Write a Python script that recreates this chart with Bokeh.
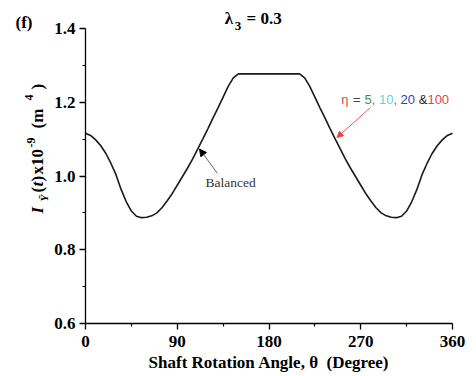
from bokeh.plotting import figure
from bokeh.models import Range1d, FixedTicker, Label, Arrow, NormalHead, ColumnDataSource
from bokeh.embed import file_html
from bokeh.resources import INLINE
import math

# ---- data ----
theta = list(range(0, 361, 5))
inertia = [1.116, 1.110, 1.098, 1.082, 1.061, 1.034, 1.003, 0.963, 0.930, 0.905,
           0.891, 0.887, 0.888, 0.892, 0.900, 0.914, 0.932, 0.952, 0.975, 0.998,
           1.021, 1.046, 1.073, 1.100, 1.128, 1.157, 1.185, 1.214, 1.243, 1.266,
           1.277, 1.277, 1.277, 1.277, 1.277, 1.277, 1.277, 1.277, 1.277, 1.277,
           1.277, 1.277, 1.277, 1.266, 1.243, 1.214, 1.185, 1.157, 1.128, 1.100,
           1.073, 1.046, 1.021, 0.998, 0.975, 0.952, 0.932, 0.914, 0.900, 0.892,
           0.888, 0.887, 0.891, 0.905, 0.930, 0.963, 1.003, 1.034, 1.061, 1.082,
           1.098, 1.110, 1.116]
x_ticks = [0, 90, 180, 270, 360]
x_minor = [45, 135, 225, 315]
y_ticks = [0.6, 0.8, 1.0, 1.2, 1.4]
y_minor = [0.7, 0.9, 1.1, 1.3]
eta_parts = ["\u03b7", "=", "5", ",", "10", ",", "20", "&", "100"]
eta_colors = ["#e0474c", "#444444", "#3a9a3a", "#e0474c", "#5fd3e3", "#e0474c", "#3b3bb0", "#222222", "#e0474c"]

SERIF = "Liberation Serif"
SANS = "Liberation Sans"

# page geometry: plot area spans px 85..452 (x) and 28..323 (y) of a 476x376 canvas
W, H = 476, 376
PX0, PX1, PY0, PY1 = 85.0, 452.0, 28.0, 323.0
XS = 360.0 / (PX1 - PX0)
YS = 0.8 / (PY1 - PY0)
def dx(px):
    return (px - PX0) * XS
def dy(py):
    return 1.4 - (py - PY0) * YS

p = figure(width=W, height=H, output_backend="svg", toolbar_location=None,
           x_range=Range1d(dx(0), dx(W)), y_range=Range1d(dy(H), dy(0)),
           min_border_left=0, min_border_right=0, min_border_top=0, min_border_bottom=0)
p.outline_line_color = None
p.xgrid.grid_line_color = None
p.ygrid.grid_line_color = None
p.background_fill_color = "white"
p.border_fill_color = "white"

p.xaxis.fixed_location = 0.6
p.yaxis.fixed_location = 0
p.xaxis.bounds = (0, 360)
p.yaxis.bounds = (0.6, 1.4)
p.xaxis.ticker = FixedTicker(ticks=x_ticks, minor_ticks=x_minor)
p.yaxis.ticker = FixedTicker(ticks=y_ticks, minor_ticks=y_minor)
p.yaxis.major_label_overrides = {0.6: "0.6", 0.8: "0.8", 1.0: "1.0", 1.2: "1.2", 1.4: "1.4"}
for ax in (p.xaxis, p.yaxis):
    ax.axis_line_color = "black"
    ax.axis_line_width = 1.3
    ax.major_tick_line_color = "black"
    ax.major_tick_line_width = 1.3
    ax.minor_tick_line_color = "black"
    ax.minor_tick_line_width = 1.2
    ax.major_tick_out = 6
    ax.major_tick_in = 0
    ax.minor_tick_out = 3
    ax.minor_tick_in = 0
    ax.major_label_text_font = SERIF
    ax.major_label_text_font_style = "bold"
    ax.major_label_text_font_size = "17px"
    ax.major_label_text_color = "black"
p.yaxis.major_label_standoff = 4
p.xaxis.major_label_standoff = 6
p.xaxis.axis_label = "Shaft Rotation Angle, \u03b8 \u00a0(Degree)"
p.xaxis.axis_label_text_font = SERIF
p.xaxis.axis_label_text_font_style = "bold"
p.xaxis.axis_label_text_font_size = "17px"
p.xaxis.axis_label_text_color = "black"
p.xaxis.axis_label_standoff = 3

src = ColumnDataSource(dict(theta=theta, inertia=inertia))
p.line("theta", "inertia", source=src, line_color="#1a1a1a", line_width=1.6)

# annotation: Balanced
p.add_layout(Arrow(end=NormalHead(size=7, fill_color="black", line_color="black"),
                   x_start=dx(217), y_start=dy(173), x_end=dx(199), y_end=dy(148.5),
                   line_color="#666666", line_width=1))
p.add_layout(Label(x=dx(205), y=dy(182), text="Balanced", text_font=SERIF,
                   text_font_size="13.5px", text_color="#333333", text_baseline="middle"))

# annotation: eta values
p.add_layout(Arrow(end=NormalHead(size=6, fill_color="#e0474c", line_color="#e0474c"),
                   x_start=dx(370), y_start=dy(107), x_end=dx(336.5), y_end=dy(137),
                   line_color="#e0474c", line_width=0.9))
eta_px = [340.8, 352.6, 364.0, 371.2, 378.4, 392.9, 400.1, 418.2, 426.9]
for t, c, xx in zip(eta_parts, eta_colors, eta_px):
    p.add_layout(Label(x=dx(xx), y=dy(99.3), text=t, text_font=SANS, text_font_size="13px",
                       text_color=c, text_baseline="middle"))

def lab(text, px, py, size, style, angle=0.0):
    # text is anchored at its bottom edge; shift by the font descent so the baseline lands at (px, py)
    d = 0.215 * float(size.replace("px", ""))
    if angle:
        px = px - d
    else:
        py = py - d
    return Label(x=dx(px), y=dy(py), text=text, angle=angle,
                 text_font=SERIF, text_font_style=style, text_font_size=size,
                 text_color="black", text_baseline="alphabetic", text_align="left")

# title and panel tag
p.add_layout(lab("\u03bb", 224.3, 21.7, "17px", "bold"))
p.add_layout(lab("3", 234.3, 28.3, "13px", "bold"))
p.add_layout(lab("= 0.3", 246.0, 21.7, "17px", "bold"))
p.add_layout(lab("(f)", 15.0, 25.5, "17px", "bold"))

# rotated y-axis label pieces: (text, baseline x px, start y px, size, style)
ang = math.pi / 2
ylab = [
    ("I", 41, 213, "17px", "bold italic"),
    ("\u0232", 46, 201, "11px", "bold italic"),
    ("(", 41, 192, "17px", "bold"),
    ("t", 41, 186, "17px", "bold italic"),
    (")", 41, 181, "17px", "bold"),
    ("x10", 41, 174, "17px", "bold"),
    ("-9", 33, 147, "12px", "bold"),
    ("(m", 41, 128, "17px", "bold"),
    ("4", 31, 100, "12px", "bold"),
    (")", 41, 89, "17px", "bold"),
]
for t, bx, sy, fs, st in ylab:
    p.add_layout(lab(t, bx, sy, fs, st, angle=ang))

open("out.html", "w").write(file_html(p, INLINE))
